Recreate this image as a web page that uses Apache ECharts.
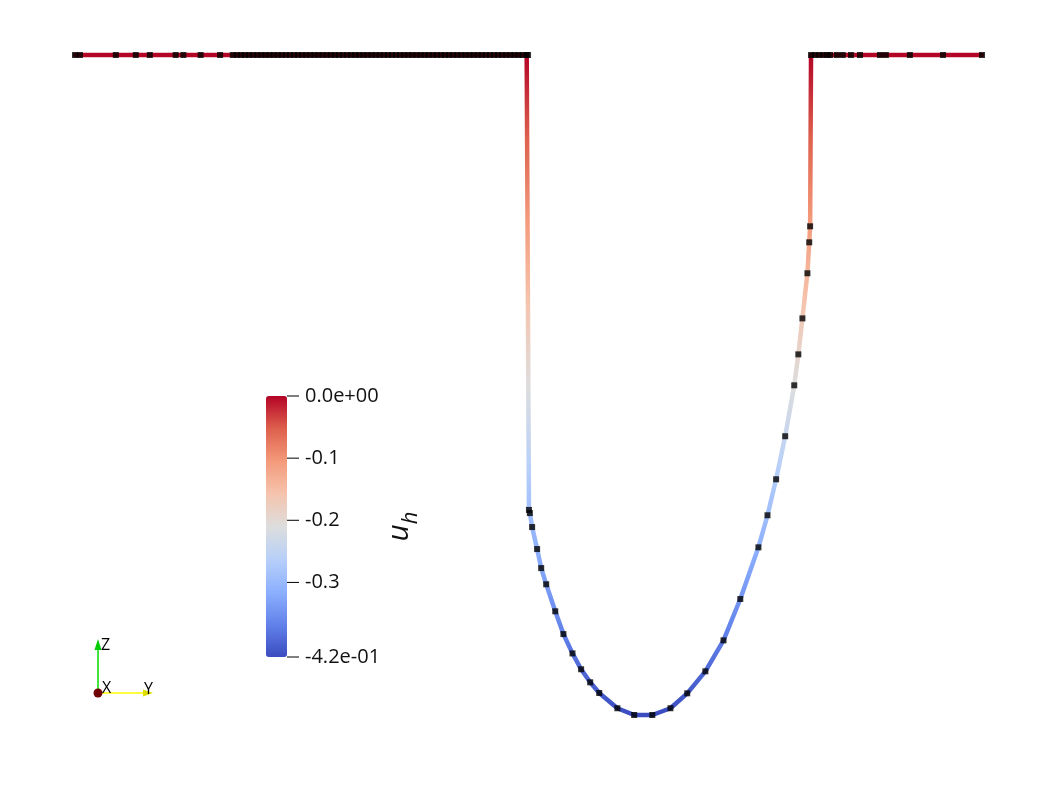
<!DOCTYPE html>
<html>
<head>
<meta charset="utf-8">
<script src="https://cdn.jsdelivr.net/npm/echarts@6/dist/echarts.min.js"></script>
<style>
html,body{margin:0;padding:0;background:#fff;}
#chart{width:1057px;height:793px;}
</style>
</head>
<body>
<div id="chart"></div>
<script>
// horizontal coordinate of each mesh vertex (left to right along the curve)
const curveX = [
  -1.000, -0.989, -0.910, -0.866, -0.835, -0.778, -0.761, -0.723, -0.680,
  -0.652, -0.643, -0.634, -0.625, -0.616, -0.607, -0.598, -0.589, -0.580, -0.571,
  -0.562, -0.553, -0.544, -0.535, -0.526, -0.517, -0.508, -0.499, -0.490, -0.481,
  -0.472, -0.463, -0.454, -0.445, -0.436, -0.427, -0.418, -0.409, -0.400, -0.391,
  -0.382, -0.373, -0.364, -0.355, -0.346, -0.337, -0.328, -0.319, -0.310, -0.301,
  -0.292, -0.283, -0.274, -0.265, -0.256, -0.247, -0.238, -0.229, -0.220, -0.211,
  -0.202, -0.193, -0.184, -0.175, -0.166, -0.157, -0.148, -0.139, -0.130, -0.121,
  -0.112, -0.103, -0.094, -0.085, -0.076, -0.067, -0.058, -0.049, -0.040, -0.031,
  -0.022, -0.013, -0.004, -0.001,
  0.001, 0.003, 0.008, 0.019, 0.028, 0.039, 0.059, 0.077, 0.097, 0.116, 0.136, 0.156,
  0.196, 0.233, 0.273, 0.313, 0.350, 0.390, 0.430, 0.467, 0.507, 0.527, 0.546, 0.566,
  0.586, 0.595, 0.604, 0.615, 0.619, 0.621,
  0.623, 0.632, 0.641, 0.650, 0.659, 0.665, 0.680, 0.693, 0.711, 0.731, 0.775, 0.788,
  0.841, 0.914, 1.000
];
// solution value u_h at each vertex
const curveU = [
  0, 0, 0, 0, 0, 0, 0, 0, 0,
  0, 0, 0, 0, 0, 0, 0, 0, 0, 0,
  0, 0, 0, 0, 0, 0, 0, 0, 0, 0,
  0, 0, 0, 0, 0, 0, 0, 0, 0, 0,
  0, 0, 0, 0, 0, 0, 0, 0, 0, 0,
  0, 0, 0, 0, 0, 0, 0, 0, 0, 0,
  0, 0, 0, 0, 0, 0, 0, 0, 0, 0,
  0, 0, 0, 0, 0, 0, 0, 0, 0, 0,
  0, 0, 0, 0,
  -0.2895, -0.2915, -0.3004, -0.3144, -0.3265, -0.3368, -0.3540, -0.3685, -0.3808, -0.3909, -0.3992, -0.4060,
  -0.4157, -0.4200, -0.4200, -0.4157, -0.4062, -0.3922, -0.3725, -0.3462, -0.3133, -0.2929, -0.2700, -0.2426,
  -0.2102, -0.1905, -0.1676, -0.1389, -0.1192, -0.1090,
  0, 0, 0, 0, 0, 0, 0, 0, 0, 0, 0, 0,
  0, 0, 0
];
// colour bar
const barMin = -0.42, barMax = 0;
const barTicks = [0, -0.1, -0.2, -0.3, -0.42];
const barTickLabels = ['0.0e+00', '-0.1', '-0.2', '-0.3', '-4.2e-01'];
const coolWarm = ['#3b4cc0','#6282ea','#8db0fe','#b8d0f9','#dddddd','#f5c4ad','#f49a7b','#de604d','#b40426'];

const pts = curveX.map((x, i) => [x, curveU[i]]);
const FONT = 'Open Sans';

const chart = echarts.init(document.getElementById('chart'), null, {renderer: 'canvas'});
chart.setOption({
  backgroundColor: '#ffffff',
  animation: false,
  grid: [
    {left: 75, top: 55, width: 907, height: 660},
    {left: 266, top: 396, width: 21, height: 261}
  ],
  xAxis: [
    {gridIndex: 0, type: 'value', min: -1, max: 1, show: false},
    {gridIndex: 1, type: 'value', min: 0, max: 1, show: false}
  ],
  yAxis: [
    {gridIndex: 0, type: 'value', min: barMin, max: barMax, show: false},
    {
      gridIndex: 1, type: 'value', min: barMin, max: barMax, position: 'right',
      splitLine: {show: false},
      axisLine: {show: false},
      axisTick: {show: false},
      axisLabel: {show: true, customValues: barTicks, margin: 18, color: '#111',
                  fontFamily: FONT, fontSize: 20,
                  formatter: v => barTickLabels[barTicks.findIndex(t => Math.abs(t - v) < 1e-9)]},
      name: '{u|u}{h|h}',
      nameLocation: 'middle',
      nameRotate: 90,
      nameGap: 101,
      nameTextStyle: {
        rich: {
          u: {fontSize: 30, fontStyle: 'italic', fontFamily: FONT, color: '#111', verticalAlign: 'bottom', lineHeight: 30, padding: [0, 0, 8, 0]},
          h: {fontSize: 22, fontStyle: 'italic', fontFamily: FONT, color: '#111', verticalAlign: 'bottom', lineHeight: 22}
        }
      }
    }
  ],
  visualMap: {
    type: 'continuous',
    seriesIndex: 0,
    dimension: 1,
    min: barMin, max: barMax,
    calculable: false,
    left: 266, top: 396,
    itemWidth: 21, itemHeight: 261,
    padding: 0,
    inRange: {color: coolWarm},
    textStyle: {color: 'transparent'}
  },
  series: [
    {
      type: 'line', xAxisIndex: 0, yAxisIndex: 0, data: pts,
      showSymbol: false, clip: false, silent: true,
      lineStyle: {width: 4.5, cap: 'round', join: 'round'}
    },
    {
      type: 'scatter', xAxisIndex: 0, yAxisIndex: 0, data: pts,
      symbol: 'rect', symbolSize: 6, clip: false, silent: true,
      itemStyle: {color: '#000'}, z: 5
    },
    {
      // colour-bar tick marks, placed through the colour-bar axis scale
      type: 'custom', xAxisIndex: 1, yAxisIndex: 1, silent: true, z: 10,
      data: barTicks.map(v => [1, v]),
      renderItem: (params, api) => {
        const p = api.coord([api.value(0), api.value(1)]);
        return {type: 'line', shape: {x1: p[0], y1: p[1], x2: p[0] + 12, y2: p[1]},
                style: {stroke: '#000', lineWidth: 1}};
      }
    }
  ],
  graphic: [
    {type: 'line', shape: {x1: 98, y1: 693, x2: 98, y2: 648}, style: {stroke: '#00dd00', lineWidth: 1.5}},
    {type: 'polygon', shape: {points: [[94.5, 650], [101.5, 650], [98, 639]]}, style: {fill: '#00cc00'}},
    {type: 'line', shape: {x1: 98, y1: 693, x2: 144, y2: 693}, style: {stroke: '#ffff00', lineWidth: 1.5}},
    {type: 'polygon', shape: {points: [[143, 689.5], [143, 696.5], [153, 693]]}, style: {fill: '#dddd00'}},
    {type: 'circle', shape: {cx: 98, cy: 693, r: 4.5}, style: {fill: '#6e0000'}},
    {type: 'text', x: 101, y: 637, style: {text: 'Z', fontSize: 16, fontFamily: FONT, fill: '#000'}},
    {type: 'text', x: 102, y: 680, style: {text: 'X', fontSize: 16, fontFamily: FONT, fill: '#000'}},
    {type: 'text', x: 144, y: 681, style: {text: 'Y', fontSize: 16, fontFamily: FONT, fill: '#000'}}
  ]
});
</script>
</body>
</html>
